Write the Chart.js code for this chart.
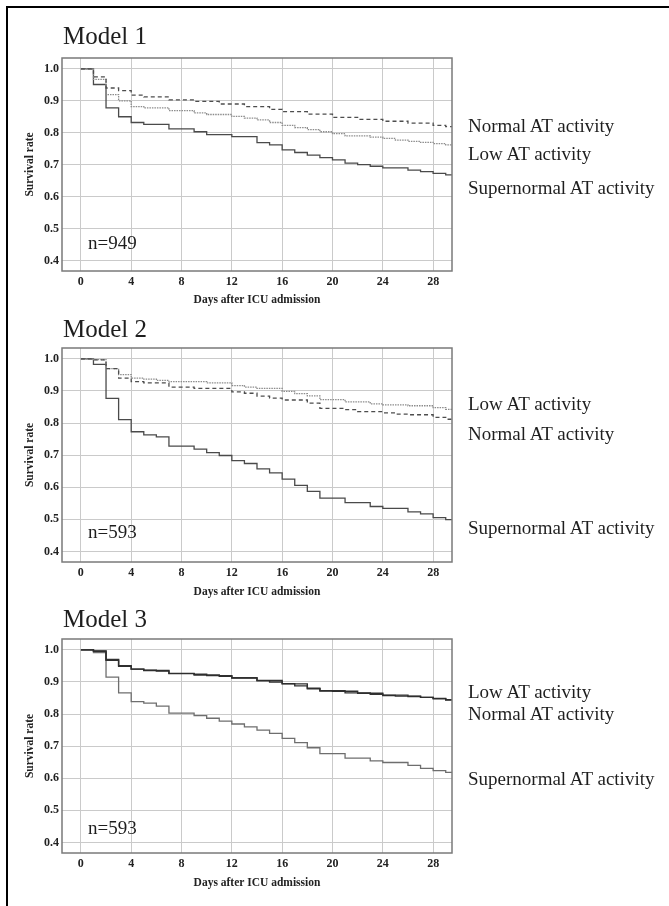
<!DOCTYPE html>
<html>
<head>
<meta charset="utf-8">
<script src="https://cdn.jsdelivr.net/npm/chart.js@4.4.0/dist/chart.umd.min.js"></script>
<style>
  body { margin: 0; background: #fff; }
  #pagina { position: relative; width: 669px; height: 906px; overflow: hidden; font-family: 'Liberation Serif', 'Times New Roman', serif; color: #1e1e1e; }
  #moldura { position: absolute; left: 6px; top: 6px; right: -10px; bottom: -10px; border-left: 2px solid #000; border-top: 2px solid #000; }
  canvas { position: absolute; left: 0; }
  .titulo { position: absolute; left: 63px; font-size: 25px; line-height: 25px; white-space: nowrap; }
  .rotulo { position: absolute; left: 468px; font-size: 19px; line-height: 19px; white-space: nowrap; }
  .n_texto { position: absolute; left: 88px; font-size: 19px; line-height: 19px; }
</style>
</head>
<body>
<div id="pagina">
  <div id="moldura"></div>
</div>
<script>
/* ===== DADOS ===== */
const x_ticks = [0, 4, 8, 12, 16, 20, 24, 28];
const y_ticks = [0.4, 0.5, 0.6, 0.7, 0.8, 0.9, 1.0];

const model_titles = ['Model 1', 'Model 2', 'Model 3'];
const model_n = ['n=949', 'n=593', 'n=593'];

// Model 1
const m1_super_days = [0, 1, 2, 3, 4, 5, 7, 9, 10, 12, 14, 15, 16, 17, 18, 19, 20, 21, 22, 23, 24, 26, 27, 28, 29, 29.5];
const m1_super_surv = [1.0, 0.951, 0.878, 0.85, 0.832, 0.826, 0.812, 0.803, 0.794, 0.788, 0.769, 0.762, 0.746, 0.738, 0.73, 0.722, 0.715, 0.705, 0.70, 0.695, 0.69, 0.683, 0.678, 0.673, 0.668, 0.668];
const m1_low_days = [0, 1, 2, 3, 4, 5, 7, 9, 10, 12, 13, 14, 15, 16, 17, 18, 19, 20, 21, 23, 24, 25, 26, 27, 28, 29, 29.5];
const m1_low_surv = [1.0, 0.967, 0.919, 0.90, 0.882, 0.878, 0.869, 0.862, 0.857, 0.851, 0.846, 0.84, 0.832, 0.823, 0.816, 0.81, 0.803, 0.797, 0.79, 0.786, 0.782, 0.777, 0.773, 0.77, 0.766, 0.762, 0.762];
const m1_normal_days = [0, 1, 2, 3, 4, 5, 7, 9, 11, 13, 15, 16, 18, 20, 22, 24, 26, 28, 29, 29.5];
const m1_normal_surv = [1.0, 0.975, 0.94, 0.932, 0.918, 0.912, 0.903, 0.898, 0.89, 0.882, 0.873, 0.866, 0.858, 0.848, 0.842, 0.836, 0.83, 0.823, 0.819, 0.819];
const m1_labels = ['Normal AT activity', 'Low AT activity', 'Supernormal AT activity'];

// Model 2
const m2_super_days = [0, 1, 2, 3, 4, 5, 6, 7, 9, 10, 11, 12, 13, 14, 15, 16, 17, 18, 19, 21, 23, 24, 26, 27, 28, 29, 29.5];
const m2_super_surv = [1.0, 0.983, 0.877, 0.811, 0.773, 0.763, 0.757, 0.728, 0.719, 0.708, 0.699, 0.683, 0.674, 0.657, 0.645, 0.625, 0.606, 0.587, 0.566, 0.552, 0.54, 0.534, 0.523, 0.517, 0.505, 0.499, 0.499];
const m2_low_days = [0, 1, 2, 3, 4, 5, 6, 7, 10, 12, 13, 14, 16, 17, 18, 19, 21, 23, 24, 26, 28, 29, 29.5];
const m2_low_surv = [1.0, 0.998, 0.97, 0.951, 0.94, 0.937, 0.933, 0.929, 0.925, 0.917, 0.912, 0.908, 0.899, 0.892, 0.885, 0.873, 0.866, 0.86, 0.857, 0.854, 0.848, 0.843, 0.843];
const m2_normal_days = [0, 1, 2, 3, 4, 5, 7, 9, 12, 13, 14, 15, 16, 18, 19, 21, 22, 24, 25, 26, 28, 29, 29.5];
const m2_normal_surv = [1.0, 0.997, 0.97, 0.94, 0.929, 0.925, 0.912, 0.908, 0.897, 0.893, 0.884, 0.878, 0.872, 0.862, 0.846, 0.842, 0.836, 0.832, 0.828, 0.826, 0.818, 0.812, 0.812];
const m2_labels = ['Low AT activity', 'Normal AT activity', 'Supernormal AT activity'];

// Model 3
const m3_super_days = [0, 1, 2, 3, 4, 5, 6, 7, 9, 10, 11, 12, 13, 14, 15, 16, 17, 18, 19, 21, 23, 24, 26, 27, 28, 29, 29.5];
const m3_super_surv = [1.0, 0.992, 0.915, 0.866, 0.839, 0.834, 0.825, 0.803, 0.795, 0.787, 0.778, 0.769, 0.76, 0.75, 0.74, 0.724, 0.711, 0.695, 0.677, 0.663, 0.654, 0.649, 0.64, 0.631, 0.624, 0.618, 0.618];
const m3_low_days = [0, 1, 2, 3, 4, 5, 6, 7, 9, 10, 12, 14, 16, 17, 18, 19, 21, 23, 24, 26, 27, 28, 29, 29.5];
const m3_low_surv = [1.0, 0.997, 0.97, 0.951, 0.94, 0.937, 0.934, 0.927, 0.924, 0.92, 0.913, 0.905, 0.895, 0.888, 0.881, 0.873, 0.866, 0.862, 0.859, 0.855, 0.852, 0.849, 0.845, 0.845];
const m3_normal_days = [0, 1, 2, 3, 4, 5, 7, 9, 11, 12, 14, 15, 16, 18, 19, 20, 22, 24, 25, 27, 28, 29, 29.5];
const m3_normal_surv = [1.0, 0.996, 0.968, 0.949, 0.94, 0.936, 0.926, 0.922, 0.918, 0.912, 0.904, 0.90, 0.894, 0.879, 0.872, 0.871, 0.865, 0.858, 0.856, 0.852, 0.848, 0.844, 0.844];
const m3_labels = ['Low AT activity', 'Normal AT activity', 'Supernormal AT activity'];

/* ===== LAYOUT ===== */
const FONTE = "'Liberation Serif', 'Times New Roman', serif";
const paineis = [
  { plot_top: 58, plot_bottom: 271, titulo_y: 35, n_y: 242, rotulos_y: [125, 153, 187], titulo_pad: 8 },
  { plot_top: 348, plot_bottom: 562, titulo_y: 328, n_y: 531, rotulos_y: [403, 433, 527], titulo_pad: 7.4 },
  { plot_top: 639, plot_bottom: 853, titulo_y: 618, n_y: 827, rotulos_y: [691, 713, 778], titulo_pad: 7 }
];

function pontos(days, surv) {
  return days.map((d, i) => ({ x: d, y: surv[i] }));
}

function serie(days, surv, cor, dash, largura) {
  return {
    data: pontos(days, surv),
    borderColor: cor,
    borderWidth: largura || 1.3,
    borderDash: dash || [],
    stepped: 'before',
    pointRadius: 0,
    fill: false
  };
}

const modelos = [
  [
    serie(m1_normal_days, m1_normal_surv, '#4d4d4d', [4, 3]),
    serie(m1_low_days, m1_low_surv, '#8c8c8c', [1.5, 1]),
    serie(m1_super_days, m1_super_surv, '#4a4a4a')
  ],
  [
    serie(m2_normal_days, m2_normal_surv, '#4d4d4d', [4, 3]),
    serie(m2_low_days, m2_low_surv, '#8c8c8c', [1.5, 1]),
    serie(m2_super_days, m2_super_surv, '#4a4a4a')
  ],
  [
    serie(m3_normal_days, m3_normal_surv, '#2e2e2e', [], 1.4),
    serie(m3_low_days, m3_low_surv, '#333333', [], 1.4),
    serie(m3_super_days, m3_super_surv, '#6e6e6e')
  ]
];
const rotulos = [m1_labels, m2_labels, m3_labels];

/* ===== MOLDURA DO GRAFICO ===== */
const plugin_moldura = {
  id: 'moldura_plot',
  afterDatasetsDraw(chart) {
    const { ctx, chartArea: a } = chart;
    ctx.save();
    ctx.strokeStyle = '#7a7a7a';
    ctx.lineWidth = 1.5;
    ctx.strokeRect(a.left, a.top, a.right - a.left, a.bottom - a.top);
    ctx.restore();
  }
};

function cria_grafico(idx) {
  const p = paineis[idx];
  const pagina = document.querySelector('#pagina');

  const canvas = document.createElement('canvas');
  const topo = p.plot_top - 18;
  canvas.width = 669;
  canvas.height = p.plot_bottom - p.plot_top + 18 + 44;
  canvas.style.top = topo + 'px';
  pagina.appendChild(canvas);

  new Chart(canvas, {
    type: 'line',
    data: { datasets: modelos[idx] },
    options: {
      responsive: false,
      animation: false,
      layout: { padding: { top: 18, right: 217, left: 0, bottom: 0 } },
      plugins: { legend: { display: false }, tooltip: { enabled: false } },
      scales: {
        x: {
          type: 'linear',
          min: -1.5,
          max: 29.5,
          afterBuildTicks: (s) => { s.ticks = x_ticks.map(v => ({ value: v })); },
          afterFit: (s) => { s.height = 44; },
          grid: { color: '#cacaca', drawTicks: false },
          border: { display: false },
          ticks: { padding: 4, color: '#222', font: { family: FONTE, size: 12, weight: 'bold' } },
          title: {
            display: true,
            text: 'Days after ICU admission',
            color: '#222',
            font: { family: FONTE, size: 11.5, weight: 'bold' },
            padding: { top: 0, bottom: p.titulo_pad }
          }
        },
        y: {
          min: 0.367,
          max: 1.034,
          afterBuildTicks: (s) => { s.ticks = y_ticks.map(v => ({ value: v })); },
          afterFit: (s) => { s.width = 62; },
          grid: { color: '#cacaca', drawTicks: false },
          border: { display: false },
          ticks: {
            padding: 3,
            color: '#222',
            font: { family: FONTE, size: 12, weight: 'bold' },
            callback: (v) => Number(v).toFixed(1)
          },
          title: {
            display: true,
            text: 'Survival rate',
            color: '#222',
            font: { family: FONTE, size: 11.5, weight: 'bold' },
            padding: { top: 23, bottom: 0 }
          }
        }
      }
    },
    plugins: [plugin_moldura]
  });

  // textos
  const titulo = document.createElement('div');
  titulo.className = 'titulo';
  titulo.textContent = model_titles[idx];
  titulo.style.top = (p.titulo_y - 12.5) + 'px';
  pagina.appendChild(titulo);

  const n_texto = document.createElement('div');
  n_texto.className = 'n_texto';
  n_texto.textContent = model_n[idx];
  n_texto.style.top = (p.n_y - 9.5) + 'px';
  pagina.appendChild(n_texto);

  rotulos[idx].forEach((txt, i) => {
    const r = document.createElement('div');
    r.className = 'rotulo';
    r.textContent = txt;
    r.style.top = (p.rotulos_y[i] - 9.5) + 'px';
    pagina.appendChild(r);
  });
}

document.addEventListener('DOMContentLoaded', () => {
  for (let i = 0; i < paineis.length; i++) cria_grafico(i);
});
</script>
</body>
</html>
